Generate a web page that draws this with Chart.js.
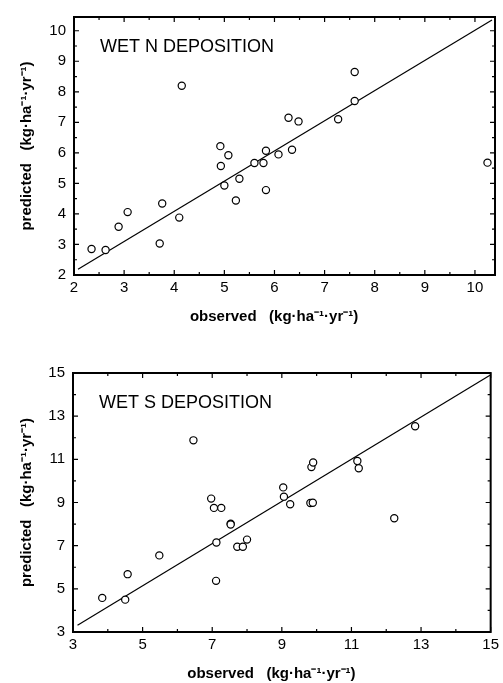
<!DOCTYPE html>
<html><head><meta charset="utf-8">
<script src="https://cdn.jsdelivr.net/npm/chart.js@4"></script>
<style>
html,body{margin:0;padding:0;background:#fff;}
#wrap{position:relative;width:503px;height:683px;overflow:hidden;background:#fff;}
canvas{position:absolute;left:0;}
</style></head><body>
<div id="wrap">
<canvas id="c1" width="503" height="340" style="top:0px"></canvas>
<canvas id="c2" width="503" height="343" style="top:340px"></canvas>
</div>
<script>
// ---- Wet N deposition ----
const obsN  = [2.35, 2.63, 2.89, 3.07, 3.71, 3.76, 4.10, 4.15, 4.92, 4.93, 5.00, 5.08, 5.23, 5.30, 5.60, 5.78, 5.83, 5.83, 6.08, 6.28, 6.35, 6.48, 7.27, 7.60, 7.60, 10.25];
const predN = [2.85, 2.82, 3.58, 4.06, 3.03, 4.34, 3.88, 8.20, 6.22, 5.57, 4.93, 5.92, 4.44, 5.15, 5.67, 5.67, 6.07, 4.78, 5.95, 7.15, 6.10, 7.03, 7.10, 8.65, 7.70, 5.68];
const fitNx = [2.08, 10.34];
const fitNy = [2.19, 10.35];
const ticksN = [2, 3, 4, 5, 6, 7, 8, 9, 10];

// ---- Wet S deposition ----
const obsS  = [3.84, 4.50, 4.57, 5.48, 6.46, 6.97, 7.05, 7.11, 7.12, 7.26, 7.53, 7.53, 7.72, 7.88, 8.00, 9.04, 9.06, 9.24, 9.82, 9.85, 9.89, 9.90, 11.17, 11.21, 12.23, 12.83];
const predS = [4.58, 4.50, 5.68, 6.55, 11.88, 9.18, 8.75, 5.37, 7.15, 8.75, 8.02, 7.98, 6.95, 6.95, 7.28, 9.70, 9.27, 8.92, 8.98, 10.64, 8.99, 10.85, 10.92, 10.59, 8.27, 12.53];
const fitSx = [3.13, 14.98];
const fitSy = [3.31, 14.90];
const ticksS = [3, 5, 7, 9, 11, 13, 15];

const xTitle = 'observed   (kg·ha⁻¹·yr⁻¹)     ';
const yTitle = 'predicted   (kg·ha⁻¹·yr⁻¹)';
const FAM = '"Liberation Sans", Arial, Helvetica, sans-serif';

const frameTicks = {
  id: 'frameTicks',
  afterDatasetsDraw(chart, args, opts) {
    const {ctx, chartArea: a} = chart;
    const x = chart.scales.x, y = chart.scales.y;
    ctx.save();
    ctx.strokeStyle = '#000';
    ctx.lineWidth = 1.2;
    const draw = (scale, minor, major, horiz) => {
      for (let v = scale.min; v <= scale.max + 1e-9; v += minor) {
        const r = (v - scale.min) / major;
        const isMajor = Math.abs(r - Math.round(r)) < 1e-6;
        const len = isMajor ? 5 : 3;
        const p = scale.getPixelForValue(v);
        ctx.beginPath();
        if (horiz) {
          ctx.moveTo(p, a.bottom); ctx.lineTo(p, a.bottom - len);
          ctx.moveTo(p, a.top); ctx.lineTo(p, a.top + len);
        } else {
          ctx.moveTo(a.left, p); ctx.lineTo(a.left + len, p);
          ctx.moveTo(a.right, p); ctx.lineTo(a.right - len, p);
        }
        ctx.stroke();
      }
    };
    draw(x, opts.xMinor, opts.xMajor, true);
    draw(y, opts.yMinor, opts.yMajor, false);
    ctx.lineWidth = 2;
    ctx.strokeRect(a.left, a.top, a.right - a.left, a.bottom - a.top);
    ctx.font = '18px ' + FAM;
    ctx.fillStyle = '#000';
    ctx.textBaseline = 'alphabetic';
    ctx.fillText(opts.label, a.left + 26, a.top + 35);
    ctx.restore();
  }
};

function makeChart(id, obs, pred, fx, fy, tickVals, cfg) {
  const pts = obs.map((v, i) => ({x: v, y: pred[i]}));
  const fit = fx.map((v, i) => ({x: v, y: fy[i]}));
  const setTicks = s => { s.ticks = tickVals.map(v => ({value: v})); };
  return new Chart(document.getElementById(id), {
    type: 'scatter',
    data: {
      datasets: [
        {data: pts, pointRadius: 3.6, pointBorderWidth: 1.2, pointBorderColor: '#000',
         pointBackgroundColor: '#fff', order: 1},
        {data: fit, showLine: true, pointRadius: 0, borderColor: '#000', borderWidth: 1.2,
         fill: false, order: 2}
      ]
    },
    options: {
      responsive: false, animation: false, devicePixelRatio: 1,
      layout: {padding: cfg.pad},
      plugins: {legend: {display: false}, tooltip: {enabled: false},
        frameTicks: {label: cfg.label, xMinor: cfg.xMinor, xMajor: cfg.xMajor, yMinor: cfg.yMinor, yMajor: cfg.yMajor}},
      scales: {
        x: {type: 'linear', position: 'bottom', min: cfg.xMin, max: cfg.xMax,
            afterBuildTicks: setTicks,
            ticks: {padding: 4, color: '#000', font: {family: FAM, size: 15}, maxRotation: 0, autoSkip: false},
            grid: {display: false, drawTicks: false}, border: {display: false},
            title: {display: true, text: xTitle, color: '#000', font: {family: FAM, size: 15, weight: 'bold'}, padding: {top: 0, bottom: cfg.xTitlePad}},
            afterFit: s => { s.height = cfg.xH; }},
        y: {type: 'linear', position: 'left', min: cfg.yMin, max: cfg.yMax,
            afterBuildTicks: setTicks,
            ticks: {padding: 8, color: '#000', font: {family: FAM, size: 15}, autoSkip: false},
            grid: {display: false, drawTicks: false}, border: {display: false},
            title: {display: true, text: yTitle, color: '#000', font: {family: FAM, size: 15, weight: 'bold'}, padding: {top: cfg.yTitlePad, bottom: 0}},
            afterFit: s => { s.width = cfg.yW; }}
      }
    },
    plugins: [frameTicks]
  });
}

makeChart('c1', obsN, predN, fitNx, fitNy, ticksN, {
  label: 'WET N DEPOSITION', pad: {left: 0, right: 8, top: 13, bottom: 0},
  xMin: 2, xMax: 10.4, yMin: 2, yMax: 10.45, xMajor: 1, xMinor: 0.5, yMajor: 1, yMinor: 0.5,
  xH: 65, yW: 74, xTitlePad: 14, yTitlePad: 18
});
makeChart('c2', obsS, predS, fitSx, fitSy, ticksS, {
  label: 'WET S DEPOSITION', pad: {left: 0, right: 9, top: 33, bottom: 0},
  xMin: 3, xMax: 15, yMin: 3, yMax: 15, xMajor: 2, xMinor: 1, yMajor: 2, yMinor: 1,
  xH: 51, yW: 73, xTitlePad: 0, yTitlePad: 18
});
</script>
</body></html>
